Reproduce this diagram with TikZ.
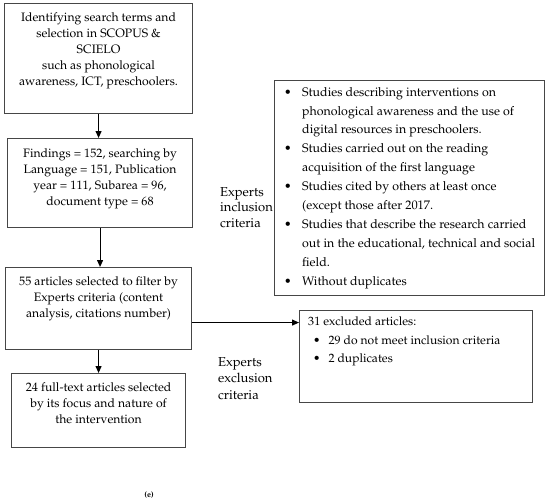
\documentclass[tikz,border=0pt]{standalone}
\usepackage[T1]{fontenc}
\usepackage{mathpazo}
\usetikzlibrary{arrows.meta}

\definecolor{boxgray}{RGB}{70,70,70}
\newcommand{\bul}{\makebox[20pt][l]{\hspace{2pt}\textbullet}}
\newcommand{\ind}{\hspace*{20pt}}
\newcommand{\cbox}[2]{\parbox[t]{#1}{\centering #2}}
\newcommand{\lbox}[2]{\parbox[t]{#1}{\raggedright #2}}

\tikzset{
  flowbox/.style={draw=boxgray, line width=1.1pt, anchor=north west, inner sep=0pt},
  flowtext/.style={anchor=north, inner sep=0pt, font=\fontsize{12.2}{16.2}\selectfont},
  listtext/.style={anchor=north west, inner sep=0pt, font=\fontsize{12.4}{18.9}\selectfont},
  sidetext/.style={anchor=north west, inner sep=0pt, font=\fontsize{13}{15.5}\selectfont},
  arr/.style={line width=1.1pt, -{Triangle[length=7pt,width=6pt]}}
}

\begin{document}
\begin{tikzpicture}[x=1pt,y=1pt,yscale=-1]
\useasboundingbox (0,0) rectangle (550,504);

%Shape: Rectangle
\node [flowbox, minimum width=188, minimum height=110] (terms) at (4,3) {};
%Shape: Rectangle
\node [flowbox, minimum width=185, minimum height=89] (findings) at (7,138) {};
%Shape: Rectangle
\node [flowbox, minimum width=186, minimum height=82] (filter) at (5,267) {};
%Shape: Rectangle
\node [flowbox, minimum width=174, minimum height=74] (fulltext) at (11,373) {};
%Shape: Rectangle
\node [flowbox, minimum width=270, minimum height=215] (inclusion) at (274,80) {};
%Shape: Rectangle
\node [flowbox, minimum width=233, minimum height=92] (excluded) at (299,310) {};

%Straight Lines
\draw [arr] (terms.south) -- (terms.south |- findings.north) ;
%Straight Lines
\draw [arr] (findings.south) -- (findings.south |- filter.north) ;
%Straight Lines
\draw [arr] (filter.south) -- (filter.south |- fulltext.north) ;
%Straight Lines
\draw [arr] ([yshift=14pt]filter.east) -- ([yshift=14pt]filter.east -| excluded.west) ;

% Text Node
\node [flowtext] (termstext) at ([yshift=9pt]terms.north) {\cbox{184pt}{Identifying search terms and\\ selection in SCOPUS \&\\ SCIELO\\ such as phonological\\ awareness, ICT, preschoolers.}};
% Text Node
\node [flowtext] (findingstext) at ([yshift=10pt]findings.north) {\cbox{182pt}{Findings = 152, searching by\\ Language = 151, Publication\\ year = 111, Subarea = 96,\\ document type = 68}};
% Text Node
\node [flowtext] (filtertext) at ([yshift=9pt]filter.north) {\cbox{182pt}{55 articles selected to filter by\\ Experts criteria (content\\ analysis, citations number)}};
% Text Node
\node [flowtext] (fulltexttext) at ([yshift=9pt]fulltext.north) {\cbox{170pt}{24 full-text articles selected\\ by its focus and nature of\\ the intervention}};
% Text Node
\node [listtext] (inclusiontext) at ([xshift=8pt,yshift=7pt]inclusion.north west) {\lbox{260pt}{%
\bul Studies describing interventions on\\ \ind phonological awareness and the use of\\ \ind digital resources in preschoolers.\\
\bul Studies carried out on the reading\\ \ind acquisition of the first language\\
\bul Studies cited by others at least once\\ \ind (except those after 2017.\\
\bul Studies that describe the research carried\\ \ind out in the educational, technical and social\\ \ind field.\\
\bul Without duplicates}};
% Text Node
\node [listtext, font=\fontsize{12.1}{18.5}\selectfont] (excludedtext) at ([xshift=9pt,yshift=7pt]excluded.north west) {\lbox{220pt}{%
31 excluded articles:\\
\hspace*{5pt}\textbullet\hspace{8pt}29 do not meet inclusion criteria\\
\hspace*{5pt}\textbullet\hspace{8pt}2 duplicates}};
% Text Node
\node [sidetext] (inclabel) at (220,187) {\lbox{60pt}{Experts\\ inclusion\\ criteria}};
% Text Node
\node [sidetext, font=\fontsize{13}{16.5}\selectfont] (exclabel) at (218,357) {\lbox{60pt}{Experts\\ exclusion\\ criteria}};
% Text Node
\node [font=\fontsize{8}{9}\selectfont\bfseries, inner sep=0pt] (panel) at (149,495) {(e)};

\end{tikzpicture}
\end{document}
